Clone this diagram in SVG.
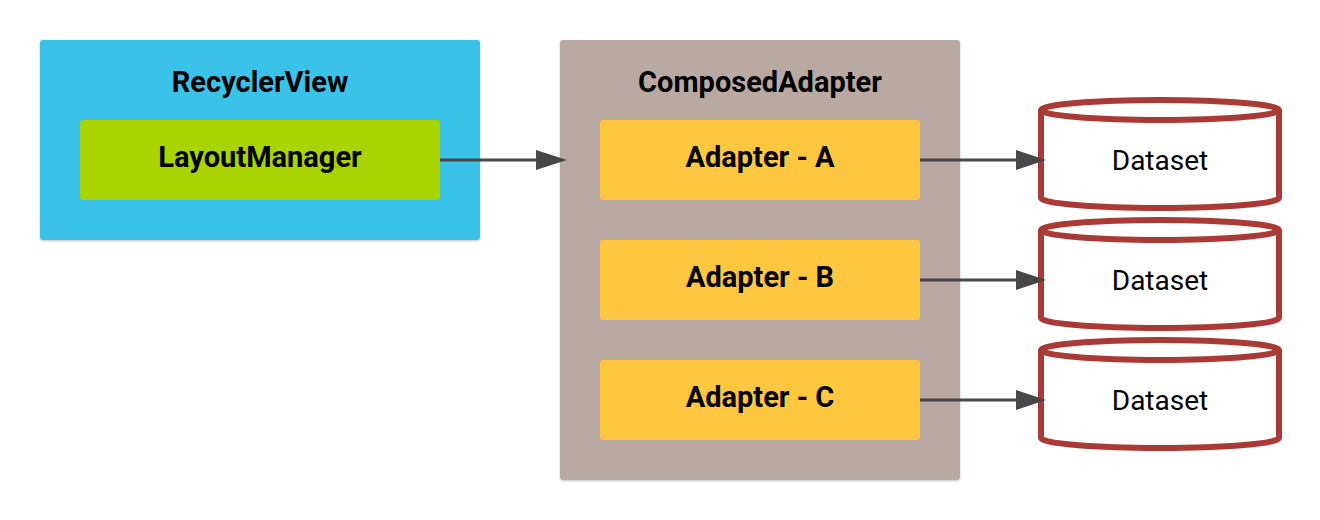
<svg xmlns="http://www.w3.org/2000/svg" width="1320" height="520" viewBox="0 0 1320 520">
<defs>
<filter id="sh" x="-5%" y="-5%" width="110%" height="110%">
<feDropShadow dx="0" dy="1" stdDeviation="1.2" flood-color="#000" flood-opacity="0.25"/>
</filter>
</defs>
<style>
.t{font-family:Roboto,"Liberation Sans",sans-serif;font-weight:bold;font-size:29px;fill:#000;text-anchor:middle}
.d{font-family:Roboto,"Liberation Sans",sans-serif;font-size:28px;fill:#000;text-anchor:middle}
.ad{fill:#FFC640}
.cyl{fill:#fff;stroke:#A93A35;stroke-width:6}
.conn{stroke:#474747;stroke-width:3;fill:none}
.head{fill:#474747}
</style>
<rect width="1320" height="520" fill="#fff"/>
<g id="recyclerview">
<rect x="40" y="40" width="440" height="200" rx="3" fill="#3BC2E9" filter="url(#sh)"/>
<text class="t" x="260" y="92">RecyclerView</text>
</g>
<g id="layoutmanager">
<rect x="80" y="120" width="360" height="80" rx="3" fill="#A9D400"/>
<text class="t" x="260" y="167">LayoutManager</text>
</g>
<g id="composedadapter">
<rect x="560" y="40" width="400" height="440" rx="3" fill="#BAA8A2" filter="url(#sh)"/>
<text class="t" x="760" y="92">ComposedAdapter</text>
</g>
<g id="adapter-a">
<rect class="ad" x="600" y="120" width="320" height="80" rx="3"/>
<text class="t" x="760" y="167">Adapter - A</text>
</g>
<g id="adapter-b">
<rect class="ad" x="600" y="240" width="320" height="80" rx="3"/>
<text class="t" x="760" y="287">Adapter - B</text>
</g>
<g id="adapter-c">
<rect class="ad" x="600" y="360" width="320" height="80" rx="3"/>
<text class="t" x="760" y="407">Adapter - C</text>
</g>
<g id="dataset-1">
<path class="cyl" d="M1041,110 L1041,198 A119,10 0 0 0 1279,198 L1279,110 A119,10 0 0 0 1041,110 A119,10 0 0 0 1279,110"/>
<text class="d" x="1160" y="170">Dataset</text>
</g>
<g id="dataset-2">
<path class="cyl" d="M1041,230 L1041,318 A119,10 0 0 0 1279,318 L1279,230 A119,10 0 0 0 1041,230 A119,10 0 0 0 1279,230"/>
<text class="d" x="1160" y="290">Dataset</text>
</g>
<g id="dataset-3">
<path class="cyl" d="M1041,350 L1041,438 A119,10 0 0 0 1279,438 L1279,350 A119,10 0 0 0 1041,350 A119,10 0 0 0 1279,350"/>
<text class="d" x="1160" y="410">Dataset</text>
</g>
<g id="connectors">
<line class="conn" x1="440" y1="160" x2="536" y2="160"/>
<path class="head" d="M536,150 L567,160 L536,170 Z"/>
<line class="conn" x1="920" y1="160" x2="1016" y2="160"/>
<path class="head" d="M1016,150 L1046,160 L1016,170 Z"/>
<line class="conn" x1="920" y1="280" x2="1016" y2="280"/>
<path class="head" d="M1016,270 L1046,280 L1016,290 Z"/>
<line class="conn" x1="920" y1="400" x2="1016" y2="400"/>
<path class="head" d="M1016,390 L1046,400 L1016,410 Z"/>
</g>
</svg>
